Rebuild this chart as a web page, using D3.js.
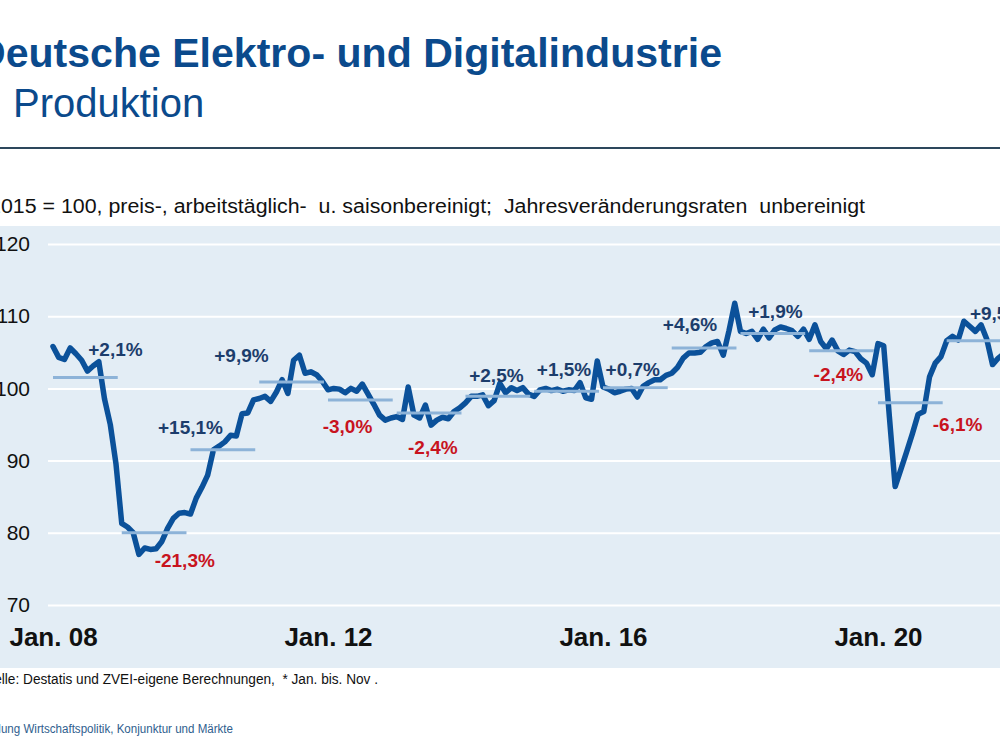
<!DOCTYPE html>
<html>
<head>
<meta charset="utf-8">
<title>Produktion</title>
<script src="https://cdn.jsdelivr.net/npm/d3@7/dist/d3.min.js"></script>
<style>
  body { margin: 0; background: #fff; }
  svg { display: block; font-family: "Liberation Sans", Arial, sans-serif; }
</style>
</head>
<body>
<script>
// monthly index values, Jan 2008 .. Nov 2021 (2015 = 100)
const produktion = [
  105.8, 104.3, 104.0, 105.6, 104.8, 103.9, 102.4, 103.1, 103.7, 98.5, 95.0, 89.5,   // 2008
  81.3, 80.8, 80.0, 77.0, 77.9, 77.7, 77.8, 78.8, 80.6, 82.0, 82.7, 82.8,           // 2009
  82.6, 84.8, 86.3, 88.0, 91.5, 92.0, 92.6, 93.5, 93.4, 96.5, 96.6, 98.4,           // 2010
  98.6, 98.9, 98.2, 99.5, 101.2, 99.3, 103.9, 104.6, 102.1, 102.3, 101.9, 101.0,    // 2011
  99.8, 100.0, 99.9, 99.4, 100.0, 99.6, 100.6, 99.2, 97.8, 96.3, 95.6, 95.9,        // 2012
  96.1, 95.7, 100.2, 96.3, 95.9, 97.7, 94.9, 95.6, 96.0, 95.8, 96.8, 97.3,          // 2013
  98.0, 98.9, 98.9, 99.1, 97.6, 98.3, 100.7, 99.4, 100.1, 99.7, 100.1, 99.2,        // 2014
  98.9, 99.8, 100.0, 99.7, 99.9, 99.6, 99.8, 99.7, 100.8, 98.7, 98.5, 103.8,        // 2015
  100.2, 99.9, 99.4, 99.6, 99.9, 100.0, 98.8, 100.3, 100.8, 101.2, 101.2, 101.8,    // 2016
  102.1, 102.9, 104.2, 104.9, 104.9, 105.0, 105.8, 106.3, 106.5, 104.6, 108.0, 111.8, // 2017
  107.9, 107.6, 107.9, 106.8, 108.2, 107.0, 108.1, 108.5, 108.3, 108.0, 107.2, 108.2, // 2018
  106.8, 108.8, 106.5, 105.5, 106.7, 105.2, 104.7, 105.3, 105.1, 104.1, 103.5, 101.9, // 2019
  106.2, 105.9, 96.0, 86.4, 88.8, 91.2, 93.7, 96.4, 96.8, 101.6, 103.5, 104.4,      // 2020
  106.6, 107.2, 106.7, 109.3, 108.6, 107.9, 108.8, 106.8, 103.3, 104.2, 104.8       // 2021 (Jan-Nov)
];

const years = [2008, 2009, 2010, 2011, 2012, 2013, 2014, 2015, 2016, 2017, 2018, 2019, 2020, 2021];
const yearAvg = [101.5, 80.0, 91.5, 100.9, 98.4, 96.6, 98.9, 99.6, 100.1, 105.6, 107.6, 105.2, 98.0, 106.6];
const yearChange = ["+2,1%", "-21,3%", "+15,1%", "+9,9%", "-3,0%", "-2,4%", "+2,5%", "+1,5%", "+0,7%", "+4,6%", "+1,9%", "-2,4%", "-6,1%", "+9,5%"];
// where each change label sits, in chart coordinates (month index, index value)
const labelMonth = [10.9, 23.0, 24.0, 32.9, 51.4, 66.3, 77.4, 89.2, 101.2, 111.2, 126.1, 137.1, 157.9, 164.8];
const labelValue = [105.5, 76.2, 94.65, 104.6, 94.8, 91.9, 101.9, 102.7, 102.7, 108.9, 110.7, 102.0, 95.1, 110.4];

const yTicks = [70, 80, 90, 100, 110, 120];
const xTickMonths = [0, 48, 96, 144];
const xTickLabels = ["Jan. 08", "Jan. 12", "Jan. 16", "Jan. 20"];

const W = 1000, H = 750;
const svg = d3.select("body").append("svg")
  .attr("width", W)
  .attr("height", H);

// header
svg.append("text")
  .attr("x", -24).attr("y", 67)
  .attr("textLength", 746).attr("lengthAdjust", "spacingAndGlyphs")
  .attr("font-size", 40).attr("font-weight", "bold")
  .attr("fill", "#0b4a8c")
  .text("Deutsche Elektro- und Digitalindustrie");

svg.append("text")
  .attr("x", 13).attr("y", 117)
  .attr("font-size", 40)
  .attr("fill", "#0b4a8c")
  .text("Produktion");

svg.append("line")
  .attr("x1", 0).attr("x2", W)
  .attr("y1", 148).attr("y2", 148)
  .attr("stroke", "#2d475c").attr("stroke-width", 2);

svg.append("text")
  .attr("x", -11).attr("y", 213)
  .attr("textLength", 876).attr("lengthAdjust", "spacingAndGlyphs")
  .attr("font-size", 20)
  .attr("fill", "#111")
  .style("white-space", "pre")
  .text("2015 = 100, preis-, arbeitstäglich-  u. saisonbereinigt;  Jahresveränderungsraten  unbereinigt");

// chart panel
svg.append("rect")
  .attr("x", 0).attr("y", 226)
  .attr("width", W).attr("height", 442)
  .attr("fill", "#e3edf5");

const x = d3.scaleLinear().domain([0, 166]).range([53, 1004]);
const y = d3.scaleLinear().domain([70, 120]).range([605, 244]);

const yAxis = svg.append("g")
  .attr("transform", "translate(48,0)")
  .call(d3.axisLeft(y).tickValues(yTicks).tickSize(-(W - 48)).tickPadding(18));
yAxis.select(".domain").remove();
yAxis.selectAll(".tick line").attr("stroke", "#fff").attr("stroke-width", 2);
yAxis.selectAll(".tick text")
  .attr("font-size", 21).attr("font-family", "Liberation Sans, Arial, sans-serif")
  .attr("fill", "#111");

const xAxis = svg.append("g")
  .attr("transform", "translate(0,605)")
  .call(d3.axisBottom(x).tickValues(xTickMonths).tickFormat((d, i) => xTickLabels[i]).tickSize(0).tickPadding(23));
xAxis.select(".domain").remove();
xAxis.selectAll(".tick text")
  .attr("font-size", 26).attr("font-weight", "bold")
  .attr("font-family", "Liberation Sans, Arial, sans-serif")
  .attr("fill", "#111");

// monthly series
const line = d3.line()
  .x((d, i) => x(i))
  .y(d => y(d));

svg.append("path")
  .datum(produktion)
  .attr("d", line)
  .attr("fill", "none")
  .attr("stroke", "#0b519a")
  .attr("stroke-width", 5.5)
  .attr("stroke-linejoin", "round")
  .attr("stroke-linecap", "round");

// yearly averages
svg.selectAll(".avg")
  .data(yearAvg)
  .enter()
  .append("line")
  .attr("class", "avg")
  .attr("x1", (d, i) => x(i * 12))
  .attr("x2", (d, i) => x(i * 12 + 11.3))
  .attr("y1", d => y(d))
  .attr("y2", d => y(d))
  .attr("stroke", "#8db3d8")
  .attr("stroke-width", 3);

// annual change labels
svg.selectAll(".chg")
  .data(yearChange)
  .enter()
  .append("text")
  .attr("class", "chg")
  .attr("x", (d, i) => x(labelMonth[i]))
  .attr("y", (d, i) => y(labelValue[i]))
  .attr("dy", "0.36em")
  .attr("text-anchor", "middle")
  .attr("font-size", 19)
  .attr("font-weight", "bold")
  .attr("fill", d => d.startsWith("-") ? "#c8141e" : "#1c3d6c")
  .text(d => d);

// footer
svg.append("text")
  .attr("x", -24).attr("y", 684)
  .attr("textLength", 402).attr("lengthAdjust", "spacingAndGlyphs")
  .attr("font-size", 14)
  .attr("fill", "#111")
  .style("white-space", "pre")
  .text("Quelle: Destatis und ZVEI-eigene Berechnungen,  * Jan. bis. Nov .");

svg.append("text")
  .attr("x", -28).attr("y", 733)
  .attr("textLength", 261).attr("lengthAdjust", "spacingAndGlyphs")
  .attr("font-size", 12)
  .attr("fill", "#2f5e8e")
  .text("Abteilung Wirtschaftspolitik, Konjunktur und Märkte");
</script>
</body>
</html>
